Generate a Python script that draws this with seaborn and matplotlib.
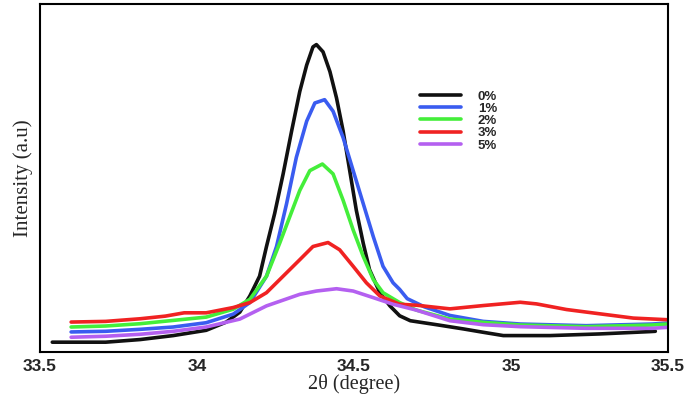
import pandas as pd
import matplotlib.pyplot as plt
import seaborn as sns

# XRD peak around 34.4 deg (arbitrary units)
x_0 = [33.54, 33.71, 33.82, 33.925, 34.03, 34.094, 34.137, 34.169, 34.2, 34.222, 34.248,
       34.275, 34.302, 34.328, 34.35, 34.37, 34.381, 34.402, 34.424, 34.445, 34.466,
       34.487, 34.508, 34.53, 34.55, 34.583, 34.615, 34.646, 34.68, 34.77, 34.85,
       34.912, 34.976, 35.05, 35.125, 35.283, 35.442, 35.46]
y_0 = [30, 30, 38, 50, 66, 91, 121, 170, 230, 320, 420,
       540, 670, 790, 870, 925, 932, 910, 850, 770, 670,
       550, 430, 330, 250, 180, 140, 110, 95, 82, 70,
       60, 50, 50, 50, 55, 62, 63]

x_1 = [33.6, 33.71, 33.82, 33.925, 34.03, 34.116, 34.169, 34.222, 34.254, 34.286, 34.317,
       34.35, 34.376, 34.407, 34.434, 34.466, 34.498, 34.53, 34.562, 34.593, 34.625,
       34.646, 34.67, 34.725, 34.806, 34.912, 35.03, 35.24, 35.45, 35.5]
y_1 = [61, 63, 69, 76, 89, 115, 150, 230, 320, 450, 590,
       700, 755, 765, 730, 650, 550, 450, 350, 260, 210,
       190, 162, 137, 111, 93, 85, 80, 85, 88]

x_2 = [33.6, 33.71, 33.82, 33.925, 34.03, 34.116, 34.169, 34.222, 34.264, 34.296, 34.328,
       34.36, 34.4, 34.434, 34.466, 34.498, 34.53, 34.562, 34.593, 34.646, 34.7,
       34.806, 34.912, 35.03, 35.24, 35.45, 35.5]
y_2 = [76, 79, 86, 96, 106, 130, 160, 230, 330, 410, 490,
       550, 570, 540, 460, 370, 290, 220, 180, 150, 127,
       100, 90, 82, 77, 82, 85]

x_3 = [33.6, 33.71, 33.82, 33.9, 33.96, 34.03, 34.116, 34.169, 34.222, 34.275, 34.328,
       34.37, 34.418, 34.455, 34.498, 34.54, 34.583, 34.646, 34.7, 34.806, 34.912,
       35.03, 35.082, 35.177, 35.283, 35.39, 35.5]
y_3 = [91, 93, 101, 109, 119, 119, 135, 150, 180, 230, 280,
       320, 332, 310, 260, 210, 170, 145, 142, 131, 141,
       151, 146, 129, 116, 103, 98]

x_5 = [33.6, 33.71, 33.82, 33.925, 34.03, 34.137, 34.222, 34.328, 34.381, 34.445,
       34.498, 34.562, 34.625, 34.7, 34.806, 34.912, 35.03, 35.24, 35.45, 35.5]
y_5 = [45, 48, 54, 63, 76, 100, 140, 175, 185, 192,
       185, 165, 145, 127, 95, 83, 77, 72, 72, 75]

labels = ["0%", "1%", "2%", "3%", "5%"]
colors = ["#111111", "#3a5cf0", "#44ee3a", "#f02222", "#b460f0"]

frames = []
for lab, xs, ys in zip(labels, [x_0, x_1, x_2, x_3, x_5], [y_0, y_1, y_2, y_3, y_5]):
    frames.append(pd.DataFrame({"theta": xs, "intensity": ys, "sample": lab}))
df = pd.concat(frames, ignore_index=True)

sns.set_style("white")
plt.rcParams["font.family"] = ["Liberation Sans", "DejaVu Sans"]

fig = plt.figure(figsize=(6.85, 4.01), dpi=100)
ax = fig.add_axes([0.058, 0.122, 0.917, 0.868])

sns.lineplot(data=df, x="theta", y="intensity", hue="sample", palette=colors,
             linewidth=2.6, sort=False, ax=ax)
for line in ax.get_lines():
    line.set_solid_joinstyle("round")
    line.set_solid_capstyle("round")

ax.set_xlim(33.5, 35.5)
ax.set_ylim(0, 1055)
ax.set_xticks([33.5, 34, 34.5, 35, 35.5])
ax.set_xticklabels(["33.5", "34", "34.5", "35", "35.5"], fontweight="bold", fontsize=12.5)
ax.set_yticks([])
ax.tick_params(axis="x", direction="in", length=4, width=1.2, pad=5)
for sp in ax.spines.values():
    sp.set_color("black")
    sp.set_linewidth(1.5)

ax.set_xlabel("2θ (degree)", family=["Liberation Serif", "DejaVu Serif"], fontsize=14.5, labelpad=0)
ax.set_ylabel("Intensity (a.u)", family=["Liberation Serif", "DejaVu Serif"], fontsize=15, labelpad=5)

leg = ax.legend(loc="upper left", bbox_to_anchor=(0.605, 0.752), frameon=False,
                borderaxespad=0, borderpad=0,
                handlelength=3.1, labelspacing=0.0, handletextpad=1.3,
                prop={"weight": "bold", "size": 9.5})
for line in leg.get_lines():
    line.set_linewidth(2.6)

fig.savefig("out.png", dpi=100)
